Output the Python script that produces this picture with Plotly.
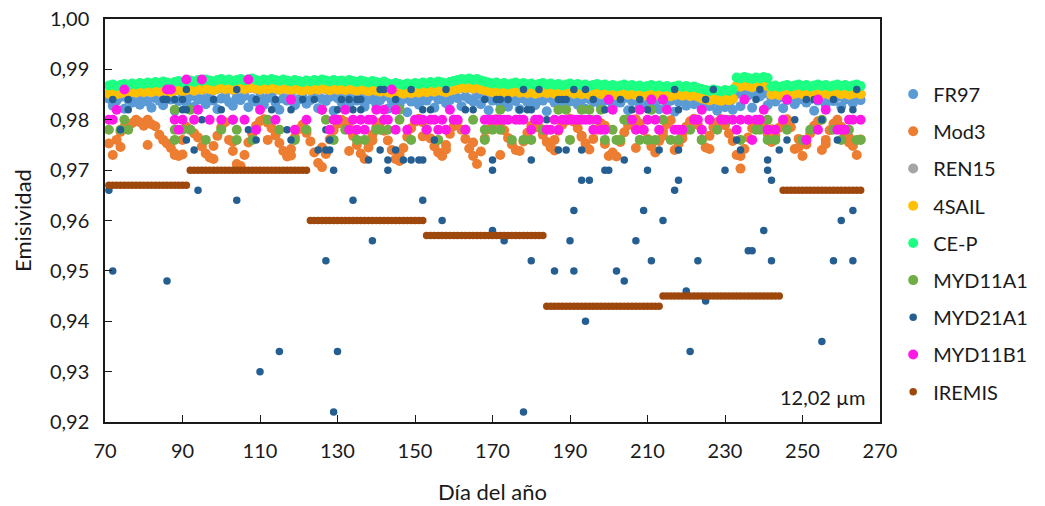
import plotly.graph_objects as go

# Day of year for the daily model series
days = list(range(71, 266))

fr97 = [
    .9842, .9828, .9838, .9845, .9822, .9840, .9834, .9846, .9830, .9841,
    .9836, .9824, .9843, .9838, .9829, .9845, .9840, .9818, .9837, .9844,
    .9833, .9846, .9826, .9840, .9843, .9831, .9845, .9838, .9821, .9842,
    .9846, .9835, .9828, .9844, .9839, .9847, .9825, .9841, .9836, .9845,
    .9830, .9843, .9847, .9834, .9820, .9842, .9838, .9846, .9829, .9840,
    .9844, .9832, .9839, .9846, .9823, .9841, .9837, .9845, .9818, .9843,
    .9835, .9847, .9829, .9842, .9838, .9845, .9826, .9840, .9844, .9831,
    .9839, .9846, .9822, .9837, .9843, .9829, .9841, .9815, .9836, .9844,
    .9830, .9842, .9838, .9847, .9824, .9840, .9845, .9833, .9839, .9848,
    .9843, .9827, .9846, .9841, .9836, .9849, .9831, .9844, .9819, .9838,
    .9845, .9833, .9840, .9826, .9843, .9837, .9821, .9842, .9835, .9844,
    .9829, .9841, .9838, .9817, .9843, .9834, .9840, .9825, .9842, .9836,
    .9844, .9830, .9839, .9822, .9841, .9835, .9843, .9827, .9838, .9842,
    .9826, .9840, .9834, .9843, .9819, .9837, .9841, .9830, .9839, .9824,
    .9842, .9835, .9821, .9840, .9833, .9838, .9816, .9836, .9841, .9828,
    .9837, .9831, .9839, .9822, .9834, .9827, .9836, .9818, .9830, .9825,
    .9833, .9820, .9851, .9827, .9853, .9848, .9824, .9850, .9846, .9852,
    .9829, .9842, .9836, .9844, .9823, .9839, .9843, .9831, .9840, .9845,
    .9834, .9841, .9818, .9838, .9844, .9830, .9842, .9837, .9845, .9826,
    .9840, .9843, .9833, .9846, .9839,
]

mod3 = [
    .9753, .9730, .9760, .9776, .9786, .9790, .9793, .9800, .9795, .9788,
    .9800, .9791, .9787, .9770, .9760, .9753, .9744, .9730, .9728, .9760,
    .9786, .9780, .9773, .9765, .9747, .9733, .9725, .9748, .9768, .9785,
    .9795, .9760, .9738, .9712, .9708, .9730, .9755, .9772, .9788, .9797,
    .9801, .9794, .9783, .9769, .9754, .9738, .9727, .9742, .9765, .9781,
    .9790, .9774, .9757, .9735, .9714, .9706, .9732, .9761, .9779, .9792,
    .9800, .9796, .9784, .9768, .9750, .9733, .9722, .9745, .9770, .9784,
    .9794, .9778, .9759, .9740, .9722, .9718, .9744, .9766, .9783, .9796,
    .9802, .9795, .9781, .9763, .9747, .9735, .9728, .9750, .9772, .9787,
    .9797, .9780, .9762, .9743, .9728, .9712, .9737, .9763, .9781, .9794,
    .9801, .9793, .9779, .9764, .9751, .9740, .9738, .9757, .9774, .9788,
    .9797, .9784, .9770, .9756, .9745, .9760, .9778, .9790, .9798, .9802,
    .9796, .9783, .9768, .9753, .9741, .9762, .9780, .9793, .9788, .9728,
    .9735, .9727, .9756, .9775, .9789, .9798, .9801, .9792, .9779, .9762,
    .9747, .9735, .9758, .9777, .9791, .9799, .9740, .9752, .9771, .9786,
    .9797, .9802, .9790, .9760, .9745, .9768, .9785, .9795, .9801, .9789,
    .9773, .9758, .9730, .9703, .9742, .9765, .9783, .9796, .9800, .9788,
    .9772, .9756, .9768, .9784, .9795, .9801, .9785, .9742, .9762, .9728,
    .9751, .9773, .9788, .9797, .9740, .9760, .9779, .9792, .9800, .9786,
    .9770, .9755, .9748, .9730, .9761,
]
# second Mod3 retrievals on some days
mod3_extra_days = [74, 81, 88, 90, 98, 103, 112, 118, 126, 133, 139, 146, 152, 158, 165,
                   172, 179, 186, 193, 199, 207, 214, 219, 226, 234, 242, 249, 256, 262]
mod3_extra = [.9746, .9750, .9733, .9731, .9722, .9756, .9760, .9729, .9745, .9738,
              .9759, .9731, .9767, .9741, .9755, .9730, .9762, .9739, .9766, .9752,
              .9744, .9768, .9763, .9742, .9728, .9781, .9745, .9752, .9765]

ren15 = [
    .9851, .9853, .9850, .9852, .9854, .9851, .9855, .9853, .9856, .9854,
    .9856, .9854, .9857, .9855, .9858, .9856, .9854, .9857, .9859, .9856,
    .9858, .9860, .9857, .9861, .9859, .9862, .9860, .9858, .9861, .9863,
    .9860, .9862, .9859, .9861, .9863, .9860, .9862, .9864, .9861, .9859,
    .9862, .9860, .9863, .9861, .9859, .9862, .9860, .9858, .9861, .9859,
    .9857, .9860, .9858, .9861, .9859, .9862, .9860, .9858, .9861, .9859,
    .9860, .9858, .9861, .9859, .9857, .9860, .9858, .9856, .9859, .9857,
    .9855, .9858, .9854, .9852, .9855, .9853, .9851, .9854, .9852, .9855,
    .9853, .9856, .9854, .9857, .9855, .9858, .9856, .9854, .9857, .9859,
    .9861, .9863, .9862, .9864, .9861, .9863, .9860, .9858, .9856, .9854,
    .9856, .9853, .9855, .9852, .9854, .9856, .9853, .9855, .9852, .9854,
    .9851, .9853, .9855, .9852, .9854, .9851, .9853, .9850, .9852, .9854,
    .9851, .9853, .9850, .9852, .9849, .9851, .9853, .9850, .9852, .9849,
    .9851, .9848, .9850, .9852, .9849, .9851, .9848, .9850, .9847, .9849,
    .9851, .9848, .9850, .9847, .9849, .9846, .9848, .9850, .9847, .9849,
    .9846, .9848, .9845, .9842, .9840, .9838, .9841, .9839, .9837, .9840,
    .9838, .9841, .9867, .9865, .9868, .9866, .9864, .9867, .9865, .9868,
    .9866, .9849, .9851, .9848, .9850, .9852, .9849, .9851, .9853, .9850,
    .9852, .9849, .9851, .9853, .9850, .9852, .9849, .9851, .9853, .9850,
    .9852, .9849, .9851, .9853, .9850,
]

sail4 = [
    .9852, .9854, .9851, .9853, .9855, .9852, .9856, .9854, .9857, .9855,
    .9857, .9855, .9858, .9856, .9859, .9857, .9855, .9858, .9860, .9857,
    .9859, .9861, .9858, .9862, .9860, .9863, .9861, .9859, .9862, .9864,
    .9861, .9863, .9860, .9862, .9864, .9861, .9863, .9865, .9862, .9860,
    .9863, .9861, .9864, .9862, .9860, .9863, .9861, .9859, .9862, .9860,
    .9858, .9861, .9859, .9862, .9860, .9863, .9861, .9859, .9862, .9860,
    .9861, .9859, .9862, .9860, .9858, .9861, .9859, .9857, .9860, .9858,
    .9856, .9859, .9855, .9853, .9856, .9854, .9852, .9855, .9853, .9856,
    .9854, .9857, .9855, .9858, .9856, .9859, .9857, .9855, .9858, .9860,
    .9862, .9864, .9863, .9865, .9862, .9864, .9861, .9859, .9857, .9855,
    .9857, .9854, .9856, .9853, .9855, .9857, .9854, .9856, .9853, .9855,
    .9852, .9854, .9856, .9853, .9855, .9852, .9854, .9851, .9853, .9855,
    .9852, .9854, .9851, .9853, .9850, .9852, .9854, .9851, .9853, .9850,
    .9852, .9849, .9851, .9853, .9850, .9852, .9849, .9851, .9848, .9850,
    .9852, .9849, .9851, .9848, .9850, .9847, .9849, .9851, .9848, .9850,
    .9847, .9849, .9846, .9843, .9841, .9839, .9842, .9840, .9838, .9841,
    .9839, .9842, .9868, .9866, .9869, .9867, .9865, .9868, .9866, .9869,
    .9867, .9850, .9852, .9849, .9851, .9853, .9850, .9852, .9854, .9851,
    .9853, .9850, .9852, .9854, .9851, .9853, .9850, .9852, .9854, .9851,
    .9853, .9850, .9852, .9854, .9851,
]

cep = [
    .9868, .9870, .9867, .9869, .9871, .9868, .9872, .9870, .9873, .9871,
    .9874, .9872, .9875, .9873, .9876, .9874, .9872, .9875, .9877, .9874,
    .9876, .9878, .9875, .9879, .9877, .9880, .9878, .9876, .9879, .9881,
    .9878, .9880, .9877, .9879, .9881, .9878, .9880, .9882, .9879, .9877,
    .9880, .9878, .9881, .9879, .9877, .9880, .9878, .9876, .9879, .9877,
    .9875, .9878, .9876, .9879, .9877, .9880, .9878, .9876, .9879, .9877,
    .9878, .9876, .9879, .9877, .9875, .9878, .9876, .9874, .9877, .9875,
    .9873, .9876, .9872, .9870, .9873, .9871, .9869, .9872, .9870, .9873,
    .9871, .9874, .9872, .9875, .9873, .9876, .9874, .9872, .9875, .9877,
    .9879, .9881, .9880, .9882, .9879, .9881, .9878, .9876, .9874, .9872,
    .9874, .9871, .9873, .9870, .9872, .9874, .9871, .9873, .9870, .9872,
    .9869, .9871, .9873, .9870, .9872, .9869, .9871, .9868, .9870, .9872,
    .9869, .9871, .9868, .9870, .9867, .9869, .9871, .9868, .9870, .9867,
    .9869, .9866, .9868, .9870, .9867, .9869, .9866, .9868, .9865, .9867,
    .9869, .9866, .9868, .9865, .9867, .9864, .9866, .9868, .9865, .9867,
    .9864, .9866, .9863, .9861, .9859, .9857, .9860, .9858, .9856, .9859,
    .9857, .9860, .9884, .9882, .9885, .9883, .9881, .9884, .9882, .9885,
    .9883, .9866, .9868, .9865, .9867, .9869, .9866, .9868, .9870, .9867,
    .9869, .9866, .9868, .9870, .9867, .9869, .9866, .9868, .9870, .9867,
    .9869, .9866, .9868, .9870, .9867,
]

# MODIS products: (day, emissivity) for days with a retrieval
myd11a1_days = [71, 74, 75, 76, 88, 88, 88, 90, 92, 92, 96, 100, 104, 104, 103, 108, 112, 115,
                119, 122, 126, 127, 129, 132, 135, 137, 140, 141, 143, 146, 146, 149, 153, 156,
                160, 163, 165, 168, 168, 170, 172, 172, 175, 178, 180, 183, 187, 189, 190, 193,
                195, 196, 198, 199, 201, 202, 203, 204, 205, 208, 210, 211, 212, 214, 216, 218,
                221, 224, 224, 228, 231, 234, 238, 239, 241, 243, 241, 246, 250, 252, 255, 258,
                260, 262, 264, 265]
myd11a1 = [.978, .978, .980, .978, .982, .978, .976, .978, .978, .982, .976, .978, .978, .976,
           .980, .976, .980, .978, .976, .978, .982, .980, .976, .978, .976, .976, .978, .978,
           .978, .980, .982, .976, .978, .976, .980, .978, .980, .978, .976, .978, .978, .982,
           .976, .976, .976, .978, .982, .982, .976, .982, .982, .980, .982, .976, .978, .976,
           .976, .980, .980, .976, .976, .982, .976, .980, .976, .976, .978, .976, .978, .978,
           .980, .976, .978, .978, .976, .976, .980, .978, .976, .978, .980, .978, .976, .978,
           .976, .976]

myd21a1_days = [71, 72, 86, 94, 104, 110, 115, 127, 129, 130, 129, 143, 134, 152, 139, 157, 170,
                173, 170, 180, 186, 191, 190, 191, 193, 195, 194, 178, 200, 210, 218, 217, 230,
                241, 242, 209, 214, 207, 211, 202, 204, 220, 225, 221, 223, 240, 236, 237, 242,
                255, 258, 263, 260, 263,
                74, 91, 93, 107, 109, 117, 118, 125, 127, 128, 128, 138, 141, 143, 145, 147, 149,
                151, 152, 155, 170, 180, 187, 189, 193, 199, 204, 213, 218, 233, 234, 241, 244,
                246, 259, 127,
                72, 76, 76, 85, 86, 88, 90, 90, 91, 91, 95, 98, 104, 109, 114, 121, 130, 133, 134,
                135, 136, 136, 141, 142, 145, 149, 152, 154, 158, 163, 165, 168, 171, 172, 174,
                177, 178, 179, 180, 182, 184, 187, 188, 189, 191, 194, 196, 199, 203, 206, 208,
                210, 217, 218, 225, 227, 238, 239, 248, 251, 253, 255, 258, 260, 263, 264, 100,
                113, 118, 124, 131]
myd21a1 = [.966, .950, .948, .966, .964, .930, .934, .952, .922, .934, .970, .970, .964, .964,
           .956, .960, .958, .956, .970, .952, .950, .962, .956, .950, .968, .968, .940, .922,
           .970, .970, .968, .966, .970, .970, .968, .962, .960, .956, .952, .950, .948, .946,
           .944, .934, .952, .958, .954, .954, .952, .936, .952, .952, .960, .962,
           .978, .976, .974, .978, .976, .978, .976, .974, .974, .976, .974, .972, .974, .972,
           .974, .972, .972, .972, .972, .976, .972, .972, .974, .974, .974, .970, .972, .974,
           .974, .976, .974, .972, .974, .976, .976, .978,
           .984, .984, .982, .984, .984, .984, .984, .982, .982, .986, .980, .984, .986, .984,
           .984, .984, .982, .984, .982, .984, .982, .984, .986, .986, .984, .986, .982, .982,
           .986, .982, .982, .984, .984, .984, .984, .982, .986, .982, .982, .986, .980, .984,
           .984, .984, .986, .986, .984, .982, .984, .982, .984, .982, .986, .982, .984, .986,
           .984, .986, .980, .984, .984, .980, .984, .982, .982, .986, .982, .982, .982, .984,
           .984]

myd11b1_days = [71, 72, 73, 75, 86, 87, 88, 89, 90, 91, 93, 94, 95, 97, 100, 103, 106, 107, 109,
                110, 114, 118, 119, 122, 126, 128, 129, 130, 132, 133, 134, 135, 136, 137, 138,
                139, 140, 142, 142, 143, 144, 145, 145, 148, 150, 151, 152, 153, 154, 155, 156,
                157, 158, 159, 160, 161, 163, 168, 169, 170, 171, 172, 173, 174, 176, 177, 178,
                180, 181, 182, 184, 185, 186, 187, 188, 189, 190, 191, 192, 193, 194, 195, 196,
                197, 198, 199, 200, 201, 206, 207, 208, 209, 210, 212, 213, 215, 211, 214, 217,
                218, 219, 222, 223, 224, 224, 226, 229, 230, 232, 233, 234, 235, 236, 237, 238,
                239, 240, 241, 243, 245, 246, 251, 254, 254, 256, 259, 260, 261, 262, 263, 265]
myd11b1 = [.980, .980, .982, .986, .986, .986, .980, .978, .980, .988, .980, .982, .988, .980,
           .980, .980, .980, .988, .978, .982, .980, .984, .978, .980, .982, .978, .980, .980,
           .982, .978, .980, .978, .980, .978, .980, .980, .982, .982, .980, .980, .986, .982,
           .978, .978, .980, .980, .980, .978, .980, .980, .978, .980, .978, .982, .980, .980,
           .978, .980, .980, .980, .980, .980, .980, .980, .980, .980, .980, .978, .980, .980,
           .978, .978, .980, .978, .980, .980, .980, .980, .980, .980, .980, .980, .978, .980,
           .978, .978, .984, .982, .980, .978, .982, .978, .980, .980, .978, .982, .984, .984,
           .978, .978, .978, .980, .980, .982, .978, .980, .980, .980, .980, .978, .980, .984,
           .980, .976, .980, .980, .982, .978, .978, .980, .984, .976, .978, .984, .982, .978,
           .978, .978, .980, .980, .980]

# IREMIS monthly emissivity, held over each month
iremis_start = [71, 92, 123, 153, 184, 214, 245]
iremis_end = [91, 122, 152, 183, 213, 244, 265]
iremis_value = [.967, .970, .960, .957, .943, .945, .966]

iremis_days, iremis = [], []
for d0, d1, v in zip(iremis_start, iremis_end, iremis_value):
    for d in range(d0, d1 + 1):
        iremis_days.append(d)
        iremis.append(v)

FONT = "Lato, 'Open Sans', sans-serif"

series = [
    ("FR97", days, fr97, "#5B9BD5", 10),
    ("Mod3", days + mod3_extra_days, mod3 + mod3_extra, "#ED7D31", 10),
    ("REN15", days, ren15, "#A5A5A5", 10),
    ("4SAIL", days, sail4, "#FFC000", 10),
    ("CE-P", days, cep, "#1CFF83", 10),
    ("MYD11A1", myd11a1_days, myd11a1, "#70AD47", 10),
    ("MYD21A1", myd21a1_days, myd21a1, "#255E91", 7.5),
    ("MYD11B1", myd11b1_days, myd11b1, "#FF19E6", 10),
    ("IREMIS", iremis_days, iremis, "#9E480E", 7.5),
]

fig = go.Figure()
for name, x, y, color, size in series:
    fig.add_trace(go.Scatter(
        x=x, y=y, mode="markers", name=name, legendgroup=name,
        marker=dict(color=color, size=size, line=dict(width=0)),
    ))

axis_common = dict(
    showline=True, linecolor="#1a1a1a", linewidth=1.5, mirror=True,
    ticks="inside", ticklen=7, tickwidth=1.2, tickcolor="#1a1a1a",
    showgrid=False, zeroline=False, automargin=False,
    tickfont=dict(family=FONT, size=20, color="#1a1a1a"),
)

fig.update_layout(
    width=1045, height=506,
    margin=dict(l=105, r=158, t=19, b=84),
    paper_bgcolor="white", plot_bgcolor="white",
    separators=",.",
    font=dict(family=FONT, color="#1a1a1a"),
    xaxis=dict(range=[70, 270], dtick=20, tick0=70, ticklabelstandoff=10,
               title=dict(text="Día del año", font=dict(family=FONT, size=22), standoff=24),
               **axis_common),
    yaxis=dict(range=[0.92, 1.0], dtick=0.01, tick0=0.92, tickformat=".2f",
               ticklabelstandoff=10,
               title=dict(text="Emisividad", font=dict(family=FONT, size=22), standoff=12),
               **axis_common),
    legend=dict(x=1.017, y=0.862, xanchor="left", yanchor="top",
                font=dict(family=FONT, size=20), tracegroupgap=8.2,
                itemwidth=30, bgcolor="rgba(0,0,0,0)"),
    annotations=[dict(text="12,02 µm", xref="paper", yref="paper", x=0.984, y=0.063,
                      xanchor="right", yanchor="middle", showarrow=False,
                      font=dict(family=FONT, size=20, color="#1a1a1a"))],
)

fig.write_html("out.html")
